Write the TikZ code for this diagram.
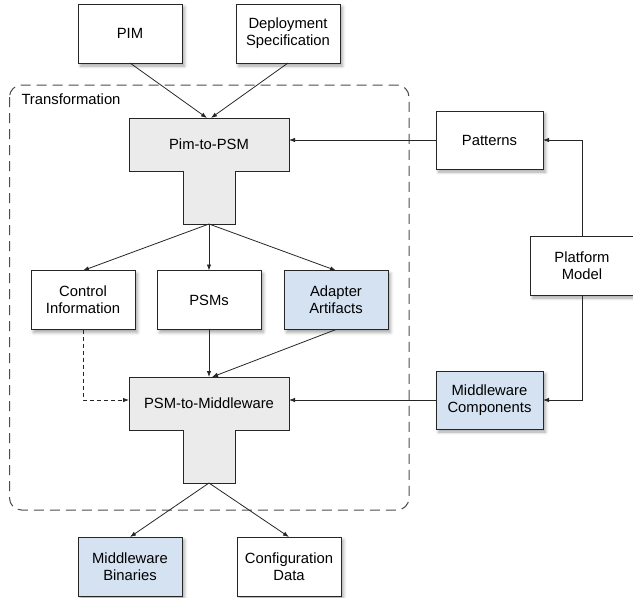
\documentclass[tikz,border=0pt]{standalone}
\usepackage{fontspec}
\setmainfont{Liberation Sans}
\usetikzlibrary{arrows.meta,shadows.blur}
\definecolor{lineK}{HTML}{262626}
\definecolor{frameG}{HTML}{4D4D4D}
\definecolor{headG}{HTML}{EBEBEB}
\definecolor{compB}{HTML}{D4E2F1}
\newcommand{\lbl}{\fontsize{14.8}{16.8}\selectfont}

\begin{document}
\begin{tikzpicture}[x=1pt,y=-1pt,every node/.style={inner sep=0pt,outer sep=0pt},
 box/.style={draw=lineK,line width=1pt,fill=white,minimum width=104pt,minimum height=59pt,align=center,font=\lbl,
  blur shadow={shadow xshift=2.5pt,shadow yshift=-3pt,shadow blur radius=3pt,shadow opacity=35}},
 compbox/.style={box,fill=compB},
 flow/.style={draw=lineK,line width=.8pt,-{Latex[length=6pt,width=4.5pt]}},
 hint/.style={flow,dash pattern=on 4pt off 3pt}]
\path[use as bounding box] (0,0) rectangle (633,598);
% ---------- transformation frame
\draw[frameG,line width=1pt,dash pattern=on 10pt off 6pt,rounded corners=12pt] (9.5,85) rectangle (409,510);
\node[anchor=west,font=\lbl] (trlabel) at (21.5,99) {Transformation};
% ---------- T-shaped steps, shared outline
\newcommand{\tblock}[3]{% #1 = name, #2 = top y, #3 = text
 \draw[lineK,line width=1pt,fill=headG] (129,#2) -- (289,#2) -- (289,#2+53) -- (235,#2+53) -- (235,#2+106)
  -- (183,#2+106) -- (183,#2+53) -- (129,#2+53) -- cycle;
 \node[minimum width=160pt,minimum height=53pt,font=\lbl] (#1) at (209,#2+26.5) {#3};
 \coordinate (#1-out) at (209,#2+106);}
\tblock{p2psm}{118}{Pim-to-PSM}
\tblock{psm2mw}{377}{PSM-to-Middleware}
% ---------- inputs
\node[box] (pim) at (130,33.5) {PIM};
\node[box] (deploy) at (288,33.5) {Deployment\\Specification};
% ---------- intermediate models
\node[box] (ctrl) at (83,300) {Control\\Information};
\node[box] (psms) at (209,300) {PSMs};
\node[compbox] (adapter) at (336,300) {Adapter\\Artifacts};
% ---------- platform side
\node[box,minimum width=107pt,minimum height=58pt] (patterns) at (489.5,140) {Patterns};
\node[compbox,minimum width=107pt,minimum height=58pt] (mwcomp) at (489.5,400) {Middleware\\Components};
\node[box] (platform) at (582,265.5) {Platform\\Model};
% ---------- outputs
\node[compbox] (binaries) at (130,566.5) {Middleware\\Binaries};
\node[box] (config) at (289,566.5) {Configuration\\Data};
% ---------- connectors
\draw[flow] (pim.south) -- ([xshift=-2pt]p2psm.north);
\draw[flow] (deploy.south) -- ([xshift=2pt]p2psm.north);
\draw[flow] (platform.north) |- (patterns.east);
\draw[flow] (platform.south) |- (mwcomp.east);
\draw[flow] (patterns.west) -- (patterns.west -| p2psm.east);
\draw[flow] (mwcomp.west) -- (mwcomp.west -| psm2mw.east);
\foreach \dst in {ctrl,psms,adapter} \draw[flow] (p2psm-out) -- (\dst.north);
\draw[flow] (psms.south) -- (psm2mw.north);
\draw[flow] (adapter.south) -- ([xshift=3pt]psm2mw.north);
\draw[hint] (ctrl.south) |- (psm2mw.west |- mwcomp);
\foreach \dst in {binaries,config} \draw[flow] (psm2mw-out) -- (\dst.north);
\end{tikzpicture}
\end{document}
